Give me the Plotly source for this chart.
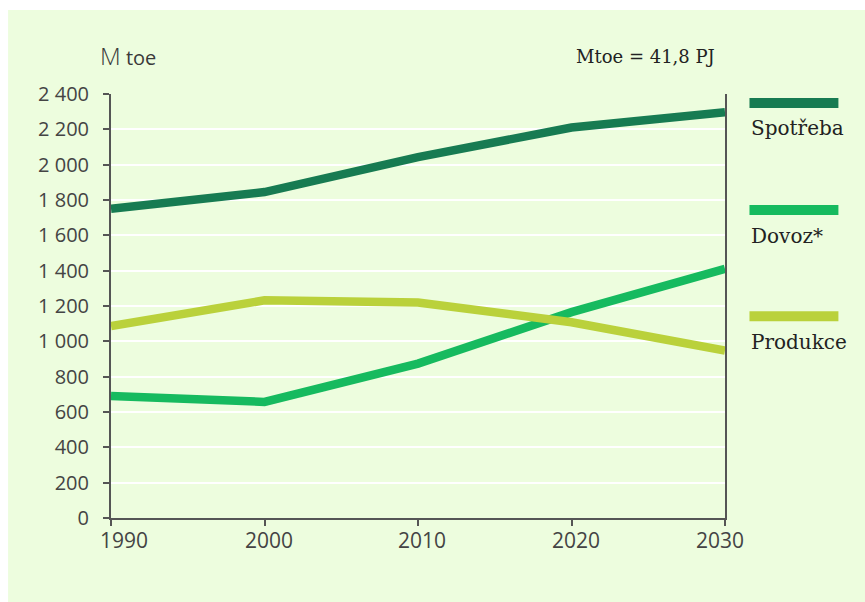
import plotly.graph_objects as go

years = [1990, 2000, 2010, 2020, 2030]
spotreba = [1750, 1845, 2043, 2210, 2297]
dovoz = [690, 657, 874, 1165, 1410]
produkce = [1087, 1232, 1220, 1108, 948]

series_names = ["Spotřeba", "Dovoz*", "Produkce"]
series_values = [spotreba, dovoz, produkce]
series_colors = ["#177B52", "#16BA5F", "#BAD13B"]

y_tickvals = list(range(0, 2401, 200))
y_ticktext = ["0", "200", "400", "600", "800", "1 000", "1 200", "1 400",
              "1 600", "1 800", "2 000", "2 200", "2 400"]
x_tickvals = [1990, 2000, 2010, 2020, 2030]
x_ticktext = ["1990", "2000", "2010", "2020", "2030"]

W, H = 865, 602
L, R, T, B = 111, 139.5, 94, 84.3
pw, ph = W - L - R, H - T - B

def px_x(x):
    return (x - L) / pw

def px_y(y):
    return (H - B - y) / ph

fig = go.Figure()
for name, vals, col in zip(series_names, series_values, series_colors):
    fig.add_trace(go.Scatter(x=years, y=vals, mode="lines", name=name,
                             line=dict(color=col, width=8.5), showlegend=False))

shapes = [dict(type="rect", xref="paper", yref="paper",
               x0=px_x(8), x1=px_x(W + 2), y0=px_y(H + 2), y1=px_y(10),
               fillcolor="#EDFDDE", line=dict(width=0), layer="below")]
annotations = []
legend_y = [103, 210, 316]
label_y = [128, 236, 342]
for name, col, sy, ly in zip(series_names, series_colors, legend_y, label_y):
    shapes.append(dict(type="line", xref="paper", yref="paper",
                       x0=px_x(750), x1=px_x(839), y0=px_y(sy), y1=px_y(sy),
                       line=dict(color=col, width=10)))
    annotations.append(dict(xref="paper", yref="paper", x=px_x(750), y=px_y(ly),
                            text=name, showarrow=False, xanchor="left", yanchor="middle",
                            font=dict(family="DejaVu Serif", size=20, color="#222")))

annotations.append(dict(xref="paper", yref="paper", x=px_x(98), y=px_y(56),
                        text="<span style='font-size:24px;font-weight:300'>M</span> toe",
                        showarrow=False, xanchor="left", yanchor="middle",
                        font=dict(family="Open Sans", size=20, color="#3a3a3a")))
annotations.append(dict(xref="paper", yref="paper", x=px_x(717), y=px_y(57),
                        text="Mtoe = 41,8 PJ", showarrow=False, xanchor="right", yanchor="middle",
                        font=dict(family="DejaVu Serif", size=18, color="#222")))

# x tick labels, nudged like the original
x_shift = [13, 4, 4, 4, -5]
for xv, xt, sh in zip(x_tickvals, x_ticktext, x_shift):
    annotations.append(dict(xref="x", yref="paper", x=xv, y=px_y(540), text=xt,
                            showarrow=False, xanchor="center", yanchor="middle", xshift=sh,
                            font=dict(family="Open Sans", size=21, color="#444")))

fig.update_layout(
    width=W, height=H,
    margin=dict(l=L, r=R, t=T, b=B, pad=0),
    paper_bgcolor="white",
    plot_bgcolor="rgba(0,0,0,0)",
    shapes=shapes,
    annotations=annotations,
    xaxis=dict(range=[1990, 2030], tickvals=x_tickvals, ticks="outside", ticklen=6,
               tickwidth=2, tickcolor="#555", showline=True, linecolor="#555", linewidth=2,
               showgrid=False, zeroline=False, showticklabels=False),
    yaxis=dict(range=[0, 2400], tickvals=y_tickvals, ticktext=y_ticktext, ticks="outside",
               ticklen=6, tickwidth=2, tickcolor="#555", showline=True, linecolor="#555",
               linewidth=2, mirror=True, showgrid=True, gridcolor="white", gridwidth=2,
               zeroline=False, ticklabelstandoff=10,
               tickfont=dict(family="Open Sans", size=20, color="#444")),
)

fig.write_html("out.html")
